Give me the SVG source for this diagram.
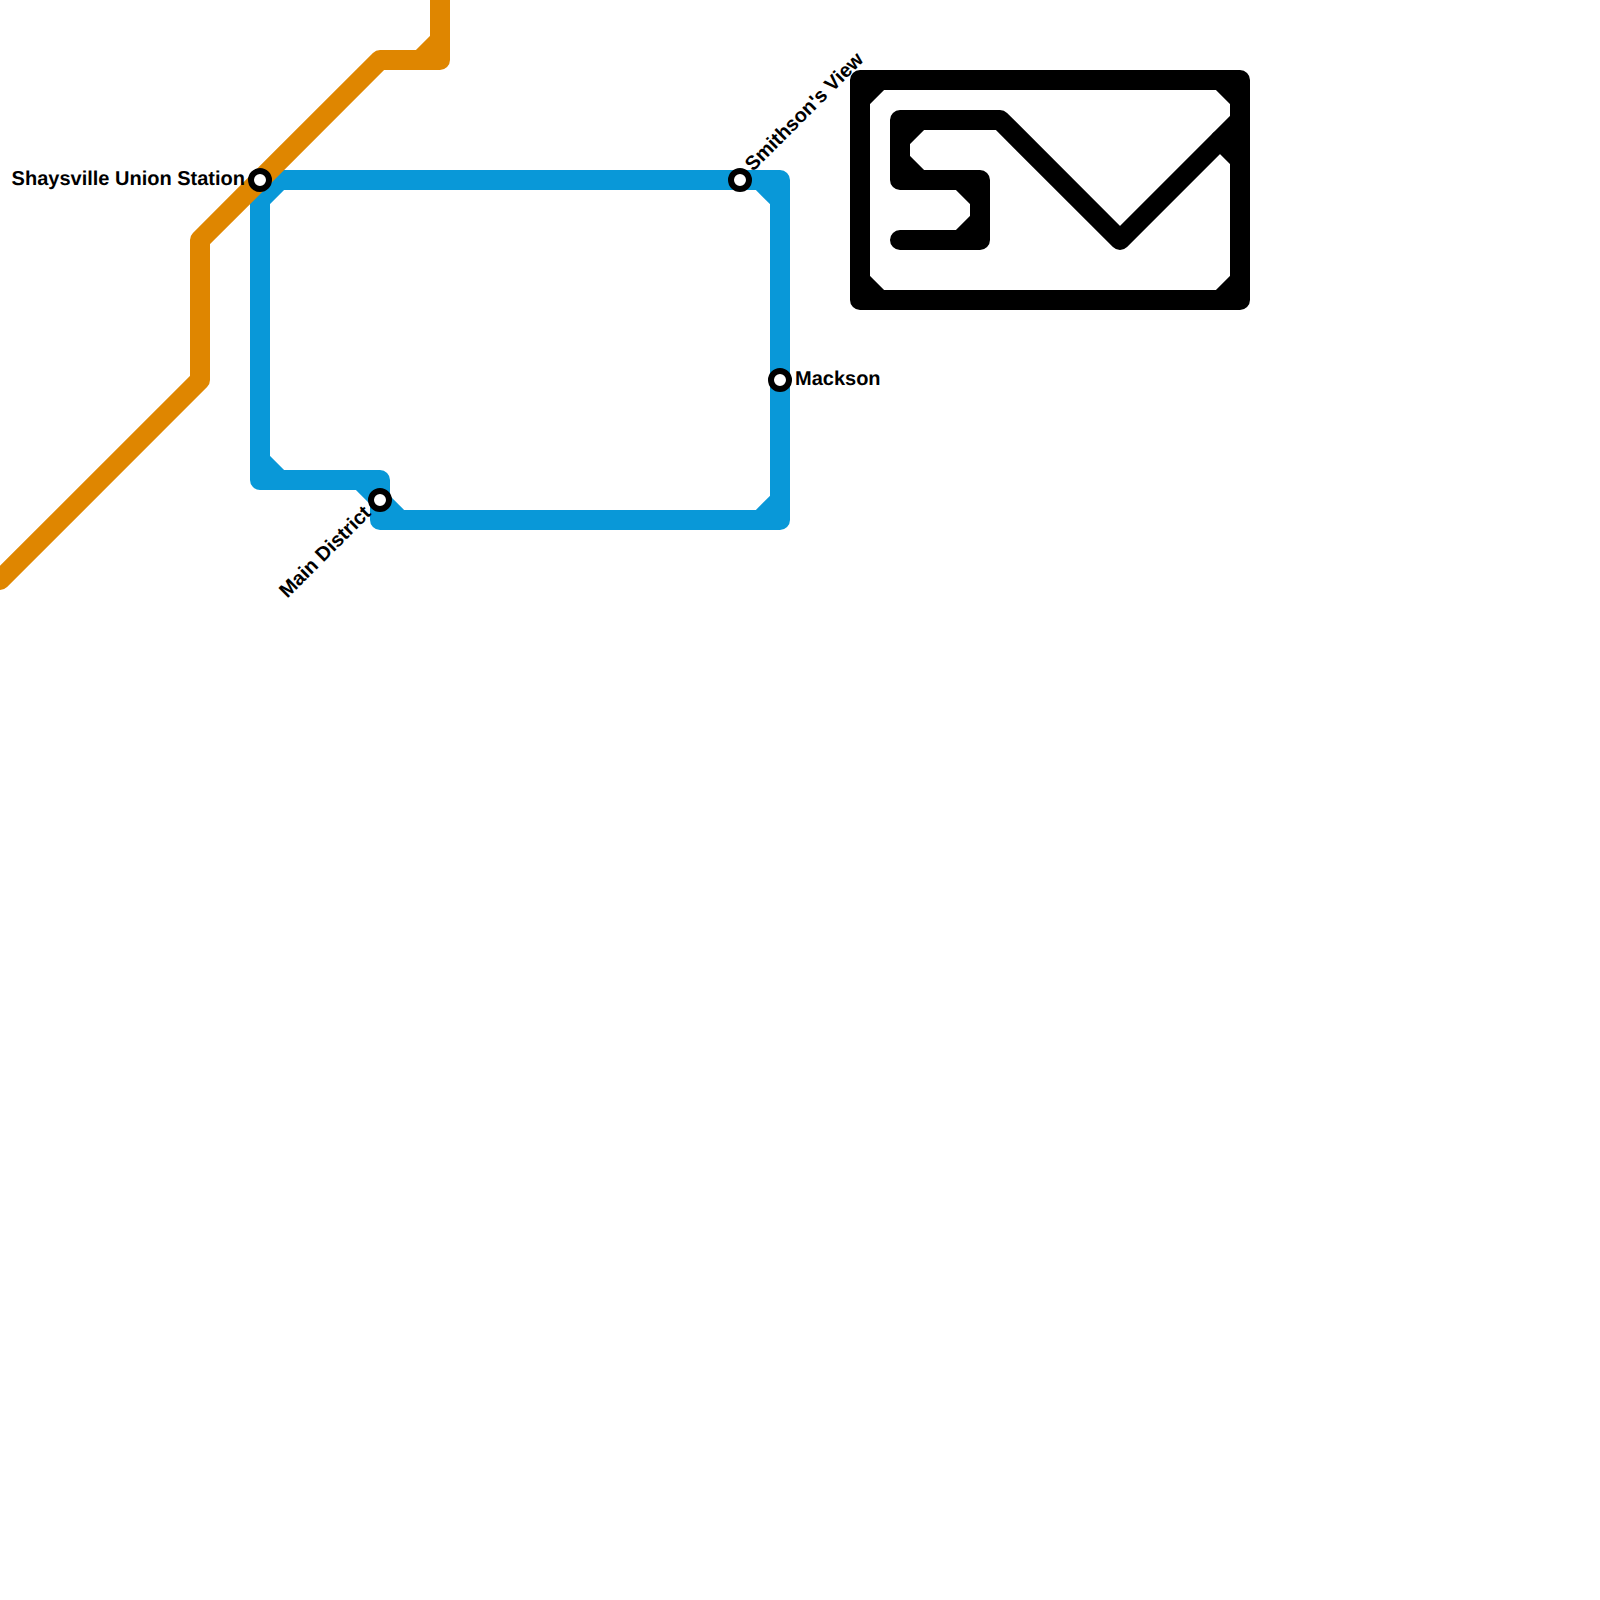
<svg xmlns="http://www.w3.org/2000/svg" width="1600" height="1600" viewBox="0 0 1600 1600">
<style>
.line{fill:none;stroke-width:20;stroke-linecap:round;stroke-linejoin:round}
.blue{stroke:#0998d8}
.orange{stroke:#df8600}
.black{stroke:#000}
.ring{fill:#fff;stroke:#000;stroke-width:6}
.label{font-family:"Liberation Sans",Arial,sans-serif;font-weight:700;font-size:20px;fill:#000;text-rendering:geometricPrecision}
</style>
<rect width="1600" height="1600" fill="#fff"/>
<g id="connectors">
<path id="line-blue" class="line blue" d="M260 200L280 180H780V520H380V480H260V200M260 460L280 480M360 480L400 520M760 180L780 200M780 500L760 520"/>
<path id="line-orange" class="line orange" d="M0 580L200 380V240L380 60H440V0M420 60L440 40"/>
<path id="line-black-frame" class="line black" d="M860 80H1240V300H860ZM860 100L880 80M860 280L880 300M1220 80L1240 100M1220 300L1240 280M1220 140L1240 160"/>
<path id="line-black-inner" class="line black" d="M900 240H980V180H900V120H1000L1120 240L1240 120M900 140L920 120M900 160L920 180M960 180L980 200M960 240L980 220"/>
</g>
<g id="station-shaysville"><circle class="ring" cx="260" cy="180" r="9"/><text class="label" x="245" y="185" text-anchor="end">Shaysville Union Station</text></g>
<g id="station-smithson"><circle class="ring" cx="740" cy="180" r="9"/><text class="label" transform="translate(753 172) rotate(-45)">Smithson's View</text></g>
<g id="station-mackson"><circle class="ring" cx="780" cy="380" r="9"/><text class="label" x="795" y="384.5">Mackson</text></g>
<g id="station-main"><circle class="ring" cx="380" cy="500" r="9"/><text class="label" text-anchor="end" transform="translate(372 514) rotate(-45)">Main District</text></g>
</svg>
